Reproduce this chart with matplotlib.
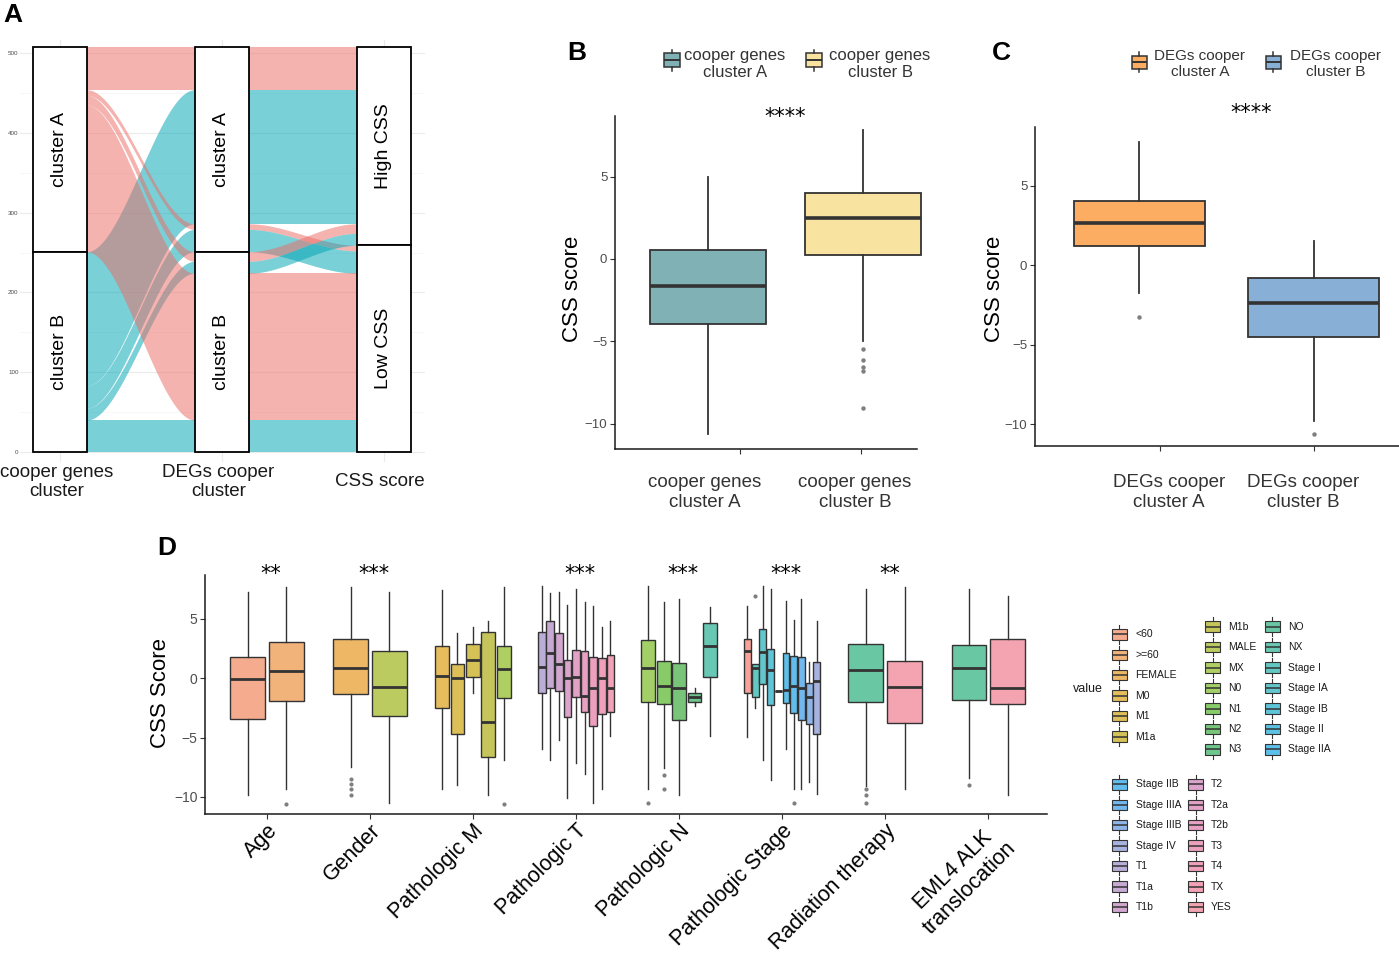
import numpy as np
import matplotlib
matplotlib.use('Agg')
import matplotlib.pyplot as plt
from matplotlib.patches import Rectangle
import matplotlib.transforms as mtrans

plt.rcParams['font.family'] = ['Liberation Sans', 'DejaVu Sans']
plt.rcParams['axes.unicode_minus'] = True

W, H = 1399, 956
fig = plt.figure(figsize=(W / 100, H / 100), dpi=100)

# ======================= DATA =======================
# Panel A (alluvial)
a_axes = ['cooper genes\ncluster', 'DEGs cooper\ncluster', 'CSS score']
a_strata = [['cluster A', 'cluster B'], ['cluster A', 'cluster B'], ['High CSS', 'Low CSS']]
a_ax1 = [0, 1, 0, 1, 0, 1, 0, 1]
a_ax2 = [0, 0, 0, 0, 1, 1, 1, 1]
a_ax3 = [0, 0, 1, 1, 0, 0, 1, 1]
a_n = [53, 168, 7, 28, 12, 15, 184, 40]
a_fill = ['#ED6D67', '#00A5B4']

# Panel B
b_labels = ['cooper genes\ncluster A', 'cooper genes\ncluster B']
b_whislo = [-10.6, -5.0]
b_q1 = [-3.92, 0.22]
b_med = [-1.64, 2.5]
b_q3 = [0.55, 4.03]
b_whishi = [4.95, 7.8]
b_fliers = [[], [-5.47, -6.12, -6.56, -6.77, -9.05]]
b_colors = ['#7FB1B5', '#F8E3A0']
b_sig = '****'

# Panel C
c_labels = ['DEGs cooper\ncluster A', 'DEGs cooper\ncluster B']
c_whislo = [-1.74, -9.79]
c_q1 = [1.22, -4.55]
c_med = [2.66, -2.41]
c_q3 = [4.03, -0.84]
c_whishi = [7.72, 1.53]
c_fliers = [[-3.25], [-10.6]]
c_colors = ['#FCAD62', '#88B0D6']
c_sig = '****'

# Panel D
d_groups = ['Age', 'Gender', 'Pathologic M', 'Pathologic T', 'Pathologic N',
            'Pathologic Stage', 'Radiation therapy', 'EML4 ALK\ntranslocation']
d_sig = ['**', '***', '', '***', '***', '***', '**', '']
d_levels = [
    ['<60', '>=60'],
    ['FEMALE', 'MALE'],
    ['M0', 'M1', 'M1a', 'M1b', 'MX'],
    ['T1', 'T1a', 'T1b', 'T2', 'T2a', 'T2b', 'T3', 'T4', 'TX'],
    ['N0', 'N1', 'N2', 'N3', 'NX'],
    ['', 'Stage I', 'Stage IA', 'Stage IB', 'Stage II', 'Stage IIA', 'Stage IIB',
     'Stage IIIA', 'Stage IIIB', 'Stage IV'],
    ['NO', 'YES'],
    ['NO', 'YES'],
]
d_whislo = [
    [-9.83, -9.36],
    [-7.5, -10.5],
    [-9.36, -9.0, -1.23, -9.83, -6.89],
    [-6.0, -6.89, -5.21, -10.1, -7.17, -8.1, -10.5, -9.36, -4.87],
    [-9.36, -7.59, -9.83, -2.35, -4.87],
    [-4.98, -2.55, -6.89, -8.57, -1.09, -6.0, -9.36, -9.36, -8.71, -9.78],
    [-9.05, -9.36],
    [-8.43, -9.83],
]
d_q1 = [
    [-3.45, -1.96],
    [-1.32, -3.19],
    [-2.49, -4.7, 0.11, -6.67, -1.68],
    [-1.23, -0.87, -1.06, -3.25, -1.62, -2.83, -4.0, -3.05, -2.88],
    [-2.04, -2.21, -3.56, -1.99, 0.11],
    [-1.29, -1.57, -0.5, -2.27, -1.09, -2.13, -2.97, -3.53, -3.87, -4.7],
    [-1.99, -3.81],
    [-1.85, -2.21],
]
d_med = [
    [-0.08, 0.62],
    [0.87, -0.73],
    [0.17, -0.03, 1.51, -3.72, 0.78],
    [0.9, 2.07, 1.18, -0.03, 0.06, -1.51, -0.87, -0.03, -0.87],
    [0.87, -0.67, -0.84, -1.57, 2.69],
    [2.27, 0.81, 2.21, 0.67, -1.09, -1.01, -0.67, -0.81, -1.57, -0.25],
    [0.67, -0.73],
    [0.87, -0.81],
]
d_q3 = [
    [1.79, 3.05],
    [3.28, 2.3],
    [2.72, 1.2, 2.9, 3.89, 2.69],
    [3.89, 4.79, 3.75, 1.51, 2.35, 2.3, 1.79, 1.65, 1.93],
    [3.19, 1.46, 1.29, -1.29, 4.65],
    [3.28, 1.15, 4.09, 2.44, -1.09, 2.07, 1.85, 1.74, -0.45, 1.32],
    [2.83, 1.46],
    [2.77, 3.25],
]
d_whishi = [
    [7.25, 7.67],
    [7.67, 7.25],
    [7.39, 3.75, 4.26, 4.79, 7.67],
    [7.73, 7.12, 7.25, 6.13, 7.45, 6.41, 6.05, 4.31, 4.82],
    [7.73, 6.41, 6.61, -0.87, 5.94],
    [6.08, 1.15, 7.73, 7.45, -1.09, 6.47, 4.87, 6.61, 1.37, 4.82],
    [7.45, 7.67],
    [7.45, 6.89],
]
d_fliers = [
    [[], [-10.6]],
    [[-8.5, -8.9, -9.3, -9.86], []],
    [[], [], [], [], [-10.6]],
    [[], [], [], [], [], [], [], [], []],
    [[-10.5], [-8.15, -9.33], [], [], []],
    [[], [6.92], [], [], [], [], [-10.5], [], [], []],
    [[-9.36, -9.83, -10.5], []],
    [[-9.0], []],
]
d_legend_levels = ['<60', '>=60', 'FEMALE', 'M0', 'M1', 'M1a', 'M1b', 'MALE', 'MX',
                   'N0', 'N1', 'N2', 'N3', 'NO', 'NX', 'Stage I', 'Stage IA', 'Stage IB',
                   'Stage II', 'Stage IIA', 'Stage IIB', 'Stage IIIA', 'Stage IIIB',
                   'Stage IV', 'T1', 'T1a', 'T1b', 'T2', 'T2a', 'T2b', 'T3', 'T4', 'TX', 'YES']
d_all_levels = [''] + d_legend_levels
d_hex = ['#F7A39B',
         '#F5AC8E', '#F2B37A', '#EDB765', '#E6BC5C', '#DDBF57', '#D4C257', '#C6C55B',
         '#BCCB60', '#B0CF62', '#A3D066', '#88CB69', '#78C57A', '#6EC58E', '#6AC7A3',
         '#68C8B4', '#64C8C2', '#62C6CC', '#5EC4D8', '#5DC2E2', '#5EBFEA', '#62BCEE',
         '#72B8EE', '#8EB5E8', '#A8B2DF', '#BAAED8', '#C7AAD4', '#D2A7CF', '#DBA4CB',
         '#E2A2C7', '#E8A1C3', '#ECA0BE', '#F0A0BA', '#F2A1B6', '#F4A3B1']
d_palette = dict(zip(d_all_levels, d_hex))


# ======================= helpers =======================
def add_ax(l, t, r, b):
    return fig.add_axes([l / W, 1 - b / H, (r - l) / W, (b - t) / H])


EDGE = '#333333'


def draw_boxes(ax, positions, width, lo, q1, med, q3, hi, fliers, colors, lw=1.0, mlw=2.2, fs=3):
    stats = [dict(med=m, q1=a, q3=b, whislo=w0, whishi=w1, fliers=f)
             for w0, a, m, b, w1, f in zip(lo, q1, med, q3, hi, fliers)]
    bp = ax.bxp(stats, positions=positions, widths=width, patch_artist=True, showcaps=False,
                boxprops=dict(edgecolor=EDGE, linewidth=lw),
                medianprops=dict(color=EDGE, linewidth=mlw, solid_capstyle='butt'),
                whiskerprops=dict(color=EDGE, linewidth=lw),
                flierprops=dict(marker='o', markersize=fs, markerfacecolor='#7F7F7F',
                                markeredgecolor='none'),
                manage_ticks=False)
    for patch, col in zip(bp['boxes'], colors):
        patch.set_facecolor(col)
    for key in ('boxes', 'medians', 'whiskers', 'fliers'):
        for art in bp[key]:
            art.set_clip_on(False)
    return bp


def style_box_axes(ax):
    for s in ('top', 'right'):
        ax.spines[s].set_visible(False)
    for s in ('left', 'bottom'):
        ax.spines[s].set_linewidth(1.1)
        ax.spines[s].set_color('#1A1A1A')
    ax.set_yticks([-10, -5, 0, 5])
    ax.tick_params(axis='y', labelsize=9.5, labelcolor='#4D4D4D', color='#333333',
                   length=3.5, width=0.8, pad=2)
    ax.tick_params(axis='x', color='#333333', length=3.5, width=0.8)
    ax.patch.set_alpha(0)


# ======================= Panel A =======================
ax_a = add_ax(20, 40, 425, 462)
ax_a.set_xlim(0.756, 3.256)
ax_a.set_ylim(-12.5, 516.3)
wS = 1 / 3
Ntot = sum(a_n)
labs = [a_ax1, a_ax2, a_ax3]
nA = len(a_n)
lo = np.zeros((3, nA))
hi = np.zeros((3, nA))
for k, lab in enumerate(labs):
    top = Ntot
    for s in (0, 1):
        for i in range(nA):
            if lab[i] == s:
                hi[k, i] = top
                lo[k, i] = top - a_n[i]
                top -= a_n[i]
tt = np.linspace(0, 1, 80)
sm = 3 * tt ** 2 - 2 * tt ** 3
for k in range(2):
    xa, xb = k + 1 + wS / 2, k + 2 - wS / 2
    xs = xa + (xb - xa) * tt
    for i in range(nA):
        up = hi[k, i] + (hi[k + 1, i] - hi[k, i]) * sm
        dn = lo[k, i] + (lo[k + 1, i] - lo[k, i]) * sm
        ax_a.fill_between(xs, dn, up, color=a_fill[a_ax1[i]], alpha=0.52, lw=0, zorder=2)
for k, lab in enumerate(labs):
    for s in (0, 1):
        idx = [i for i in range(nA) if lab[i] == s]
        b0, b1 = lo[k, idx].min(), hi[k, idx].max()
        ax_a.add_patch(Rectangle((k + 1 - wS / 2, b0), wS, b1 - b0, fc='white', ec='black',
                                 lw=1.3, zorder=3))
        ax_a.text(k + 1, (b0 + b1) / 2, a_strata[k][s], rotation=90, ha='center', va='center',
                  fontsize=14, zorder=4, color='black')
ax_a.set_yticks(range(0, 501, 100))
ax_a.set_yticks(range(50, 501, 100), minor=True)
ax_a.set_xticks([1, 2, 3])
ax_a.set_xticklabels([])
ax_a.grid(True, which='major', color='#EBEBEB', lw=0.8, zorder=0)
ax_a.grid(True, which='minor', axis='y', color='#F4F4F4', lw=0.5, zorder=0)
ax_a.set_axisbelow(True)
for s in ax_a.spines.values():
    s.set_visible(False)
ax_a.tick_params(axis='both', which='both', length=0, labelsize=4.5, labelcolor='#4D4D4D', pad=1)
blend_a = mtrans.blended_transform_factory(ax_a.transData, ax_a.transAxes)
for k, lab in enumerate(a_axes):
    ax_a.text(k + 0.98, -0.047, lab, transform=blend_a, ha='center', va='center', fontsize=13.5,
              color='#1A1A1A', linespacing=1.2)

# ======================= Panel B =======================
ax_b = add_ax(615, 116, 917, 449)
ax_b.set_xlim(0.4, 2.35)
ax_b.set_ylim(-11.52, 8.67)
draw_boxes(ax_b, [1, 2], 0.75, b_whislo, b_q1, b_med, b_q3, b_whishi, b_fliers, b_colors,
           lw=1.3, mlw=2.6, fs=3.2)
style_box_axes(ax_b)
ax_b.set_xticks([1.21, 1.99])
ax_b.set_xticklabels([])
blend_b = mtrans.blended_transform_factory(ax_b.transData, ax_b.transAxes)
for xl, lab in zip([0.98, 1.95], b_labels):
    ax_b.text(xl, -0.13, lab, transform=blend_b, ha='center', va='center', fontsize=13.5,
              color='#333333', linespacing=1.25)
ax_b.text(1.5, 8.25, b_sig, ha='center', va='baseline', fontsize=15, family='DejaVu Sans',
          color='black', clip_on=False)

# ======================= Panel C =======================
ax_c = add_ax(1035, 127, 1399, 446)
ax_c.set_xlim(0.40, 2.49)
ax_c.set_ylim(-11.38, 8.68)
draw_boxes(ax_c, [1, 2], 0.75, c_whislo, c_q1, c_med, c_q3, c_whishi, c_fliers, c_colors,
           lw=1.3, mlw=2.6, fs=3.2)
style_box_axes(ax_c)
ax_c.set_xticks([1.12, 2.0])
ax_c.set_xticklabels([])
blend_c = mtrans.blended_transform_factory(ax_c.transData, ax_c.transAxes)
for xl, lab in zip([1.17, 1.94], c_labels):
    ax_c.text(xl, -0.145, lab, transform=blend_c, ha='center', va='center', fontsize=13.5,
              color='#333333', linespacing=1.25)
ax_c.text(1.64, 9.2, c_sig, ha='center', va='baseline', fontsize=15, family='DejaVu Sans',
          color='black', clip_on=False)

# ======================= Panel D =======================
ax_d = add_ax(205, 575, 1047, 814)
ax_d.set_xlim(-0.6, 7.57)
ax_d.set_ylim(-11.43, 8.66)
for g, levels in enumerate(d_levels):
    n = len(levels)
    slot = 0.75 / n
    pos = [g - 0.375 + slot * (j + 0.5) for j in range(n)]
    cols = [d_palette[lev] for lev in levels]
    draw_boxes(ax_d, pos, slot * 0.9, d_whislo[g], d_q1[g], d_med[g], d_q3[g], d_whishi[g],
               d_fliers[g], cols, lw=1.0, mlw=2.0, fs=3)
    if d_sig[g]:
        ax_d.text(g + 0.04, 8.2, d_sig[g], ha='center', va='baseline', fontsize=15,
                  family='DejaVu Sans', color='black', clip_on=False)
style_box_axes(ax_d)
ax_d.tick_params(axis='y', labelsize=10)
ax_d.set_xticks(range(len(d_groups)))
ax_d.set_xticklabels(d_groups, rotation=45, ha='right', va='top', rotation_mode='anchor',
                     fontsize=15.5, multialignment='center', color='black')
ax_d.tick_params(axis='x', pad=1)

# ======================= overlay (labels & legends) =======================
ov = fig.add_axes([0, 0, 1, 1])
ov.set_xlim(0, W)
ov.set_ylim(H, 0)
ov.axis('off')
ov.patch.set_alpha(0)

for lab, (x, y) in zip('ABCD', [(13, 15), (577, 53), (1001, 53), (167, 548)]):
    ov.text(x, y, lab, ha='center', va='center', fontsize=19, fontweight='bold', color='black')

for x, y, lab in [(573, 289, 'CSS score'), (995, 289, 'CSS score'), (160, 693, 'CSS Score')]:
    ov.text(x, y, lab, rotation=90, ha='center', va='center', fontsize=16, color='black')


def key_glyph(x, y, w, h, wh, color, lw=0.9):
    ov.add_patch(Rectangle((x - w / 2, y - h / 2), w, h, fc=color, ec=EDGE, lw=lw))
    ov.plot([x - w / 2, x + w / 2], [y, y], color=EDGE, lw=lw + 0.3, solid_capstyle='butt')
    ov.plot([x, x], [y - h / 2 - wh, y - h / 2], color=EDGE, lw=lw)
    ov.plot([x, x], [y + h / 2, y + h / 2 + wh], color=EDGE, lw=lw)


# legend B
for (kx, lx), lab, col in zip([(671.5, 735), (814, 880)], b_labels, b_colors):
    key_glyph(kx, 60, 16, 14, 3.5, col, lw=1.1)
    ov.text(lx, 64, lab, ha='center', va='center', fontsize=12, color='#333333', linespacing=1.1)
# legend C
for (kx, lx), lab, col in zip([(1139, 1200), (1273, 1336)], c_labels, c_colors):
    key_glyph(kx, 62, 15, 13, 3.5, col, lw=1.1)
    ov.text(lx, 64, lab, ha='center', va='center', fontsize=11, color='#333333', linespacing=1.15)

# legend D
ov.text(1073, 689, 'value', ha='left', va='center', fontsize=9, color='#1A1A1A')
d_leg_cols = [(1119, 1135.5, 634.3, 0, 6), (1212.5, 1228, 626.7, 6, 13),
              (1272, 1288, 626.7, 13, 20), (1119, 1135.5, 784.3, 20, 27),
              (1195.5, 1210.5, 784.3, 27, 34)]
step = 20.45
for kx, lx, y0, i0, i1 in d_leg_cols:
    for r, lev in enumerate(d_legend_levels[i0:i1]):
        y = y0 + r * step
        key_glyph(kx, y, 15, 10.5, 4, d_palette[lev], lw=0.8)
        ov.text(lx, y, lev, ha='left', va='center', fontsize=7.5, color='#1A1A1A')

fig.savefig('out.png', dpi=100)
